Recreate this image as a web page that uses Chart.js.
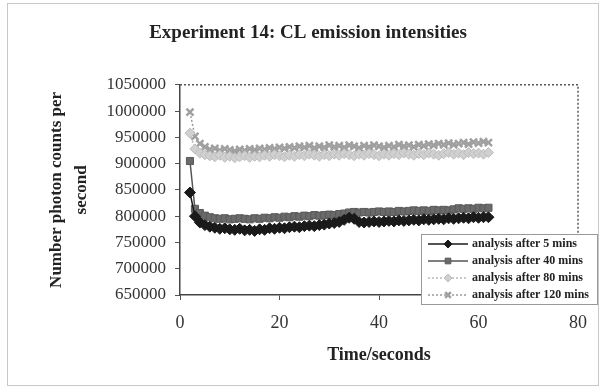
<!DOCTYPE html>
<html>
<head>
<meta charset="utf-8">
<script src="https://cdn.jsdelivr.net/npm/chart.js@4.4.1/dist/chart.umd.min.js"></script>
<style>
  body { margin: 0; background: #fff; }
</style>
</head>
<body>
<canvas id="grafico" width="601" height="388"></canvas>
<script>
const tempos = [2, 3, 4, 5, 6, 7, 8, 9, 10, 11, 12, 13, 14, 15, 16, 17, 18, 19, 20, 21,
    22, 23, 24, 25, 26, 27, 28, 29, 30, 31, 32, 33, 34, 35, 36, 37, 38, 39, 40, 41,
    42, 43, 44, 45, 46, 47, 48, 49, 50, 51, 52, 53, 54, 55, 56, 57, 58, 59, 60, 61, 62];

const after5 = [845000, 800000, 788000, 783000, 780000, 778000, 776000, 777000, 775000, 774000,
    776000, 773000, 774000, 772000, 775000, 774000, 777000, 776000, 778000, 777000,
    779000, 780000, 779000, 781000, 782000, 781000, 783000, 784000, 786000, 787000,
    789000, 793000, 797000, 795000, 789000, 788000, 789000, 790000, 789000, 790000,
    791000, 790000, 792000, 791000, 792000, 793000, 792000, 794000, 793000, 794000,
    795000, 794000, 796000, 795000, 796000, 797000, 796000, 798000, 797000, 798000, 798000];

const after40 = [905000, 814000, 806000, 801000, 798000, 796000, 795000, 796000, 794000, 795000,
    796000, 795000, 794000, 796000, 795000, 797000, 796000, 798000, 797000, 799000,
    798000, 800000, 799000, 801000, 800000, 802000, 801000, 802000, 803000, 802000,
    804000, 805000, 807000, 808000, 807000, 808000, 807000, 808000, 809000, 808000,
    809000, 808000, 810000, 809000, 810000, 811000, 810000, 811000, 810000, 812000,
    811000, 812000, 811000, 813000, 815000, 814000, 815000, 814000, 816000, 815000, 816000];

const after80 = [958000, 928000, 920000, 917000, 915000, 913000, 916000, 912000, 914000, 911000,
    913000, 915000, 912000, 914000, 913000, 916000, 914000, 917000, 915000, 913000,
    916000, 914000, 917000, 915000, 918000, 916000, 914000, 917000, 915000, 918000,
    916000, 919000, 917000, 915000, 918000, 916000, 919000, 917000, 915000, 918000,
    916000, 919000, 917000, 920000, 918000, 916000, 919000, 917000, 920000, 918000,
    916000, 919000, 921000, 918000, 920000, 917000, 921000, 919000, 920000, 918000, 921000];

const after120 = [998000, 952000, 938000, 932000, 927000, 929000, 925000, 928000, 926000, 924000,
    927000, 925000, 928000, 926000, 929000, 927000, 930000, 928000, 931000, 929000,
    932000, 930000, 933000, 931000, 934000, 930000, 933000, 931000, 935000, 932000,
    934000, 931000, 935000, 933000, 930000, 934000, 932000, 935000, 933000, 931000,
    934000, 932000, 936000, 933000, 935000, 932000, 936000, 934000, 937000, 935000,
    938000, 936000, 939000, 936000, 938000, 940000, 937000, 941000, 939000, 942000, 940000];

const legendas = ['analysis after 5 mins', 'analysis after 40 mins', 'analysis after 80 mins', 'analysis after 120 mins'];

const xTicks = [0, 20, 40, 60, 80];
const yTicks = [650000, 700000, 750000, 800000, 850000, 900000, 950000, 1000000, 1050000];

function pontos(valores) {
    return tempos.map((t, i) => ({ x: t, y: valores[i] }));
}

const serif = '"Liberation Serif", "Times New Roman", serif';

// moldura, fundo e borda pontilhada do grafico
const moldura = {
    id: 'moldura',
    beforeDraw(chart) {
        const ctx = chart.ctx;
        ctx.save();
        ctx.fillStyle = '#ffffff';
        ctx.fillRect(0, 0, chart.width, chart.height);
        ctx.strokeStyle = '#c8c8c8';
        ctx.lineWidth = 1;
        ctx.strokeRect(7.5, 3.5, 591, 382);
        ctx.restore();
    },
    beforeDatasetsDraw(chart) {
        const a = chart.chartArea;
        const ctx = chart.ctx;
        ctx.save();
        ctx.strokeStyle = '#555';
        ctx.lineWidth = 1.5;
        ctx.setLineDash([2, 2]);
        ctx.beginPath();
        ctx.moveTo(a.left, a.top);
        ctx.lineTo(a.right, a.top);
        ctx.lineTo(a.right, a.bottom);
        ctx.stroke();
        ctx.restore();
    }
};

// legenda desenhada dentro da area do grafico
const legendaCaixa = {
    id: 'legendaCaixa',
    afterDraw(chart) {
        const ctx = chart.ctx;
        const bx = 421, by = 234, bw = 176, bh = 70;
        ctx.save();
        ctx.fillStyle = '#ffffff';
        ctx.fillRect(bx, by, bw, bh);
        ctx.strokeStyle = '#999';
        ctx.lineWidth = 1;
        ctx.strokeRect(bx + 0.5, by + 0.5, bw, bh);
        chart.data.datasets.forEach((ds, i) => {
            const y = by + 10 + i * 17;
            ctx.strokeStyle = ds.borderColor;
            ctx.lineWidth = ds.borderWidth;
            ctx.setLineDash(ds.borderDash || []);
            ctx.beginPath();
            ctx.moveTo(428, y);
            ctx.lineTo(468, y);
            ctx.stroke();
            ctx.setLineDash([]);
            ctx.fillStyle = ds.pointBackgroundColor;
            ctx.strokeStyle = ds.pointBorderColor;
            ctx.lineWidth = ds.pointBorderWidth;
            Chart.helpers.drawPoint(ctx, { pointStyle: ds.pointStyle, radius: 4, borderWidth: ds.pointBorderWidth, rotation: 0 }, 448, y);
            ctx.fillStyle = '#222';
            ctx.font = 'bold 12px ' + serif;
            ctx.textBaseline = 'middle';
            ctx.fillText(ds.label, 472, y);
        });
        ctx.restore();
    }
};

new Chart(document.getElementById('grafico'), {
    type: 'line',
    data: {
        datasets: [{
            label: legendas[0],
            data: pontos(after5),
            borderColor: '#1a1a1a',
            borderWidth: 1.5,
            pointStyle: 'rectRot',
            pointRadius: 5.5,
            pointBackgroundColor: '#1a1a1a',
            pointBorderColor: '#1a1a1a',
            pointBorderWidth: 1
        }, {
            label: legendas[1],
            data: pontos(after40),
            borderColor: '#555',
            borderWidth: 1.5,
            pointStyle: 'rect',
            pointRadius: 5,
            pointBackgroundColor: '#6a6a6a',
            pointBorderColor: '#5a5a5a',
            pointBorderWidth: 1
        }, {
            label: legendas[2],
            data: pontos(after80),
            borderColor: '#bbb',
            borderWidth: 1.5,
            borderDash: [2, 2],
            pointStyle: 'rectRot',
            pointRadius: 5,
            pointBackgroundColor: '#d0d0d0',
            pointBorderColor: '#bdbdbd',
            pointBorderWidth: 1
        }, {
            label: legendas[3],
            data: pontos(after120),
            borderColor: '#999',
            borderWidth: 1.5,
            borderDash: [2, 2],
            pointStyle: 'crossRot',
            pointRadius: 5,
            pointBackgroundColor: '#9a9a9a',
            pointBorderColor: '#a0a0a0',
            pointBorderWidth: 2.5
        }]
    },
    options: {
        responsive: false,
        animation: false,
        layout: {
            padding: { left: 38, right: 23, top: 0, bottom: 0 }
        },
        plugins: {
            legend: { display: false },
            tooltip: { enabled: false },
            title: {
                display: true,
                text: 'Experiment 14: CL emission intensities',
                font: { family: serif, size: 19, weight: 'bold' },
                color: '#222',
                padding: { top: 22, bottom: 40 }
            }
        },
        scales: {
            x: {
                type: 'linear',
                min: 0,
                max: 80,
                afterBuildTicks: s => { s.ticks = xTicks.map(v => ({ value: v })); },
                afterFit: s => { s.height = 93; },
                ticks: {
                    font: { family: serif, size: 18 },
                    color: '#333',
                    padding: 12
                },
                grid: { drawOnChartArea: false, tickLength: 5, color: '#555' },
                border: { color: '#444', width: 1.5 },
                title: {
                    display: true,
                    text: 'Time/seconds',
                    font: { family: serif, size: 18, weight: 'bold' },
                    color: '#222',
                    padding: { top: 4, bottom: 22 }
                }
            },
            y: {
                min: 650000,
                max: 1050000,
                afterBuildTicks: s => { s.ticks = yTicks.map(v => ({ value: v })); },
                afterFit: s => { s.width = 142; },
                ticks: {
                    font: { family: serif, size: 17 },
                    color: '#333',
                    padding: 9,
                    callback: v => String(v)
                },
                grid: { drawOnChartArea: false, tickLength: 5, color: '#555' },
                border: { color: '#444', width: 1.5 },
                title: {
                    display: true,
                    text: ['Number photon counts per', 'second'],
                    font: { family: serif, size: 17, weight: 'bold', lineHeight: 1.47 },
                    color: '#222',
                    padding: { top: 6, bottom: 0 }
                }
            }
        }
    },
    plugins: [moldura, legendaCaixa]
});
</script>
</body>
</html>
